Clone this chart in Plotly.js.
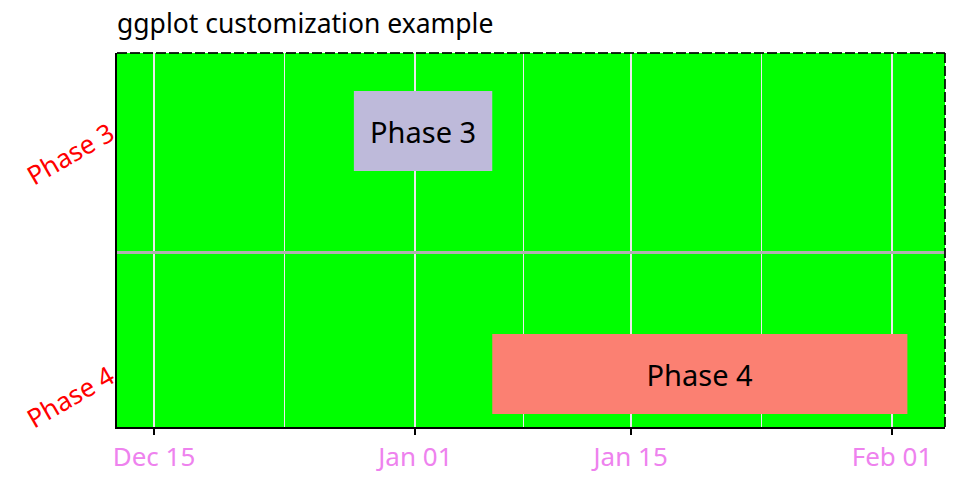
<!DOCTYPE html>
<html>
<head>
<meta charset="utf-8">
<script src="https://cdn.plot.ly/plotly-3.0.1.min.js"></script>
<style>html,body{margin:0;padding:0;background:#fff;}#chart{width:960px;height:480px;}</style>
</head>
<body>
<div id="chart"></div>
<script>
// Data
const phases = ["Phase 3", "Phase 4"];
const startDates = ["2023-12-28", "2024-01-06"];
const endDates = ["2024-01-06", "2024-02-02"];
const barColors = ["#BEBADA", "#FB8072"];
const tickDates = ["2023-12-15", "2024-01-01", "2024-01-15", "2024-02-01"];
const tickLabels = ["Dec 15", "Jan 01", "Jan 15", "Feb 01"];
const minorDates = ["2023-12-23 12:00", "2024-01-08", "2024-01-23 12:00"];

const durations = startDates.map((s, i) => new Date(endDates[i] + "T00:00:00Z") - new Date(s + "T00:00:00Z"));

const FONT = "Noto Sans";

const trace = {
  type: "bar",
  orientation: "h",
  y: phases,
  base: startDates,
  x: durations,
  width: 0.33,
  marker: {color: barColors, line: {width: 0}},
  text: phases,
  textposition: "inside",
  insidetextanchor: "middle",
  textfont: {family: FONT, size: 29, color: "#000"},
  hoverinfo: "none",
  showlegend: false
};

const layout = {
  width: 960,
  height: 480,
  margin: {l: 117, r: 15, t: 53, b: 53, pad: 0},
  paper_bgcolor: "#ffffff",
  plot_bgcolor: "#00FF00",
  font: {family: FONT, color: "#000"},
  title: {
    text: "ggplot customization example",
    font: {family: FONT, size: 26.5, color: "#000"},
    x: 0, xref: "paper", xanchor: "left",
    y: 0.95, yref: "container", yanchor: "middle"
  },
  xaxis: {
    type: "date",
    range: ["2023-12-12 14:15", "2024-02-04 10:42"],
    tickmode: "array",
    tickvals: tickDates,
    ticktext: tickLabels,
    tickfont: {family: FONT, size: 26, color: "violet"},
    ticks: "outside",
    ticklen: 6,
    tickwidth: 2,
    tickcolor: "#000",
    showline: true,
    linecolor: "#000",
    linewidth: 2,
    showgrid: true,
    gridcolor: "#ebebeb",
    gridwidth: 2,
    zeroline: false,
    minor: {
      tickmode: "array",
      tickvals: minorDates,
      showgrid: true,
      gridcolor: "#ebebeb",
      gridwidth: 1,
      ticks: ""
    }
  },
  yaxis: {
    type: "category",
    categoryorder: "array",
    categoryarray: ["Phase 4", "Phase 3"],
    range: [-0.218, 1.321],
    tickson: "boundaries",
    showgrid: true,
    gridcolor: "#b0b0b0",
    gridwidth: 3,
    ticks: "",
    tickangle: -30,
    tickfont: {family: FONT, size: 26, color: "red"},
    showline: true,
    linecolor: "#000",
    linewidth: 2,
    zeroline: false
  },
  shapes: [
    {type: "line", xref: "paper", yref: "paper", x0: 0, x1: 1, y0: 1, y1: 1, line: {color: "rgba(0,0,0,0.85)", width: 2, dash: "10px,3px"}},
    {type: "line", xref: "paper", yref: "paper", x0: 1, x1: 1, y0: 0, y1: 1, line: {color: "rgba(0,0,0,0.85)", width: 2, dash: "10px,3px"}}
  ]
};

Plotly.newPlot("chart", [trace], layout, {displayModeBar: false, staticPlot: true});
</script>
</body>
</html>
